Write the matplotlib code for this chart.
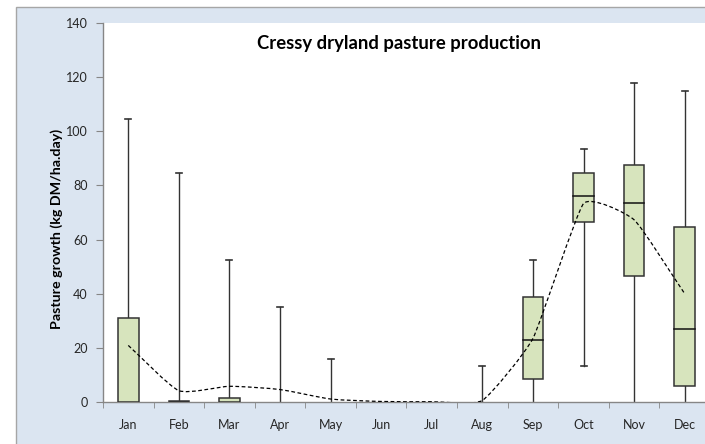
import matplotlib
matplotlib.use("Agg")
import matplotlib.pyplot as plt
from matplotlib.patches import Rectangle, PathPatch
from matplotlib.path import Path
import numpy as np

plt.rcParams['font.family'] = ['Lato', 'DejaVu Sans']

months = ['Jan', 'Feb', 'Mar', 'Apr', 'May', 'Jun', 'Jul', 'Aug', 'Sep', 'Oct', 'Nov', 'Dec']
whisker_low = [0, 0, 0, 0, 0, 0, 0, 0, 0, 13.4, 0, 0]
q1 = [0, 0, 0, 0, 0, 0, 0, 0, 8.5, 66.5, 46.7, 6.0]
median = [0, 0, 0, 0, 0, 0, 0, 0, 22.8, 76.1, 73.5, 27.1]
q3 = [31.1, 0.5, 1.5, 0, 0, 0, 0, 0, 38.7, 84.7, 87.4, 64.8]
whisker_high = [104.5, 84.7, 52.3, 35.2, 15.9, 0, 0, 13.4, 52.3, 93.6, 117.7, 115.0]
means = [20.9, 4.2, 5.8, 4.6, 1.1, 0.2, 0.1, 0.6, 23.5, 73.3, 67.3, 40.0]

W, H = 705, 444
fig = plt.figure(figsize=(W / 100, H / 100), dpi=100)
fig.patch.set_facecolor('white')

# chart area background
bg = Rectangle((16 / W, -0.1), 1.2, (H - 7) / H + 0.1, transform=fig.transFigure,
               facecolor='#DBE5F1', edgecolor='#A6A6A6', linewidth=1.0, zorder=-10)
fig.add_artist(bg)

ax = fig.add_axes([103 / W, 42 / H, 607 / W, 379 / H])
ax.set_zorder(1)
ax.set_facecolor('white')

x = np.arange(len(months))
box_w = 0.41
cap_w = 0.12
box_face = '#D7E4BD'
edge = '#333333'

ax.set_xlim(-0.5, 11.5)
ax.set_ylim(0, 140)

for i in x:
    # whiskers
    if whisker_high[i] > q3[i]:
        ax.plot([i, i], [q3[i], whisker_high[i]], color=edge, lw=1.0, zorder=2)
        ax.plot([i - cap_w / 2, i + cap_w / 2], [whisker_high[i]] * 2, color=edge, lw=1.2, zorder=2)
    if whisker_low[i] < q1[i]:
        ax.plot([i, i], [whisker_low[i], q1[i]], color=edge, lw=1.0, zorder=2)
        if whisker_low[i] > 0:
            ax.plot([i - cap_w / 2, i + cap_w / 2], [whisker_low[i]] * 2, color=edge, lw=1.2, zorder=2)
    # box
    if q3[i] > q1[i]:
        ax.add_patch(Rectangle((i - box_w / 2, q1[i]), box_w, q3[i] - q1[i],
                               facecolor=box_face, edgecolor=edge, lw=1.1, zorder=3))
        if median[i] > q1[i]:
            ax.plot([i - box_w / 2, i + box_w / 2], [median[i]] * 2, color='#111111', lw=1.1, zorder=4)

# smoothed mean line, computed in screen space with arm lengths limited by
# the shorter adjacent segment (Excel-like smoothing without big overshoot)
pts_d = ax.transData.transform(np.column_stack([x, means]).astype(float))
n = len(pts_d)
k = 0.2
tang = []
arm = []
for i in range(n):
    p_prev = pts_d[i - 1] if i > 0 else pts_d[i]
    p_next = pts_d[i + 1] if i + 1 < n else pts_d[i]
    t = p_next - p_prev
    nt = np.linalg.norm(t)
    t = t / nt if nt > 0 else t
    lens = []
    if i > 0:
        lens.append(np.linalg.norm(pts_d[i] - pts_d[i - 1]))
    if i + 1 < n:
        lens.append(np.linalg.norm(pts_d[i + 1] - pts_d[i]))
    tang.append(t)
    arm.append(k * min(lens))
verts = [pts_d[0]]
codes = [Path.MOVETO]
for i in range(n - 1):
    c1 = pts_d[i] + tang[i] * arm[i]
    c2 = pts_d[i + 1] - tang[i + 1] * arm[i + 1]
    verts += [c1, c2, pts_d[i + 1]]
    codes += [Path.CURVE4] * 3
verts_data = ax.transData.inverted().transform(np.array(verts))
ax.add_patch(PathPatch(Path(verts_data, codes), facecolor='none', edgecolor='black',
                       lw=0.9, linestyle=(0, (3, 2)), zorder=5))

ax.set_yticks(np.arange(0, 141, 20))
ax.set_xticks(x)
ax.set_xticklabels(months)
ax.set_xticks(np.arange(-0.5, 12, 1), minor=True)
ax.tick_params(axis='x', which='major', length=0, pad=12, labelsize=9, colors='#262626')
ax.tick_params(axis='x', which='minor', length=4, color='#868686', direction='out')
ax.tick_params(axis='y', length=5, color='#868686', direction='out', pad=6, labelsize=9, labelcolor='#262626')

for s in ['top', 'right']:
    ax.spines[s].set_visible(False)
for s in ['left', 'bottom']:
    ax.spines[s].set_color('#868686')
    ax.spines[s].set_linewidth(1.0)

fig.text(57 / W, 1 - 229 / H, 'Pasture growth (kg DM/ha.day)', rotation=90,
         ha='center', va='center', fontsize=10.3, fontweight='bold', color='black', zorder=5)
fig.text(399 / W, 1 - 43 / H, 'Cressy dryland pasture production',
         ha='center', va='center', fontsize=13.3, fontweight='bold', color='black', zorder=5)

fig.savefig('out.png', dpi=100, facecolor=fig.get_facecolor())
